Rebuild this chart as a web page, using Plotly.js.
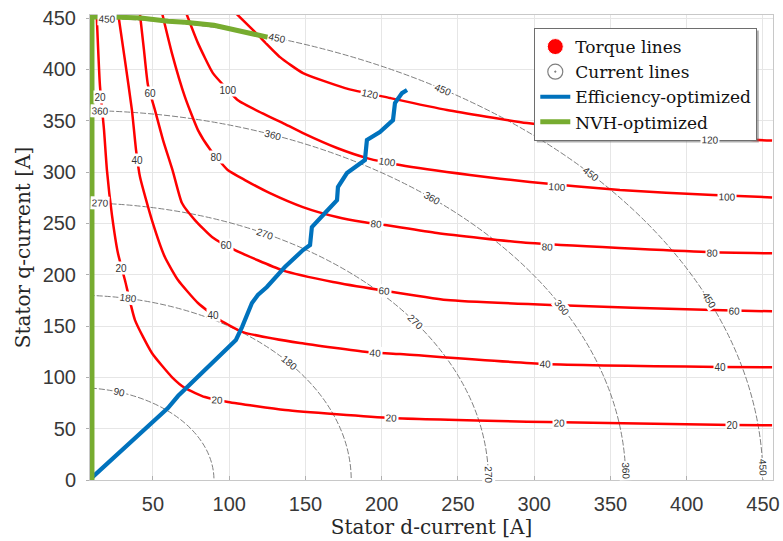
<!DOCTYPE html>
<html>
<head>
<meta charset="utf-8">
<script src="https://cdn.plot.ly/plotly-3.0.1.min.js"></script>
<style>
  html, body { margin: 0; padding: 0; background: #ffffff; }
  #chart { width: 783px; height: 541px; }
</style>
</head>
<body>
<div id="chart"></div>
<script>
// Constant-torque contours in the d-q current plane (stator d-current, stator q-current) [A]
const torqueLevels = [20, 40, 60, 80, 100, 120];

const torque20D = [13.0, 15.2, 17.9, 19.8, 23.1, 27.0, 31.6, 38.2, 49.3, 62.4, 71.0, 84.1, 99.2, 136.6, 206.7, 308.4, 430.3, 456];
const torque20Q = [456, 384.7, 340.9, 301.9, 258.1, 221.1, 194.8, 155.8, 123.7, 100.3, 89.6, 80.8, 76.0, 68.2, 60.4, 56.5, 53.6, 53.4];

const torque40D = [27.0, 31.6, 36.2, 38.9, 41.5, 49.3, 57.8, 66.4, 79.5, 93.9, 109.0, 146.4, 190.3, 212.0, 307.1, 421.9, 456];
const torque40Q = [456, 409.1, 360.4, 321.4, 295.1, 253.2, 217.2, 194.8, 172.4, 155.8, 144.1, 133.4, 124.7, 122.7, 113.0, 110.1, 109.8];

const torque60D = [41.3, 44.1, 46.7, 51.3, 56.6, 63.0, 69.0, 77.5, 88.7, 103.8, 134.6, 168.0, 198.9, 242.8, 312.3, 417.3, 456];
const torque60Q = [456, 418.8, 384.7, 360.4, 331.2, 301.0, 269.8, 253.2, 236.7, 224.0, 204.5, 192.9, 185.1, 175.3, 170.4, 165.6, 164.3];

const torque80D = [55.8, 62.4, 71.0, 79.5, 87.5, 99.0, 110.3, 126.7, 148.3, 170.6, 187.7, 202.1, 236.2, 297.2, 413.3, 456];
const torque80Q = [456, 415.9, 373.0, 340.9, 322.0, 302.0, 292.2, 279.5, 265.9, 256.2, 251.3, 248.4, 240.6, 230.8, 222.1, 220.8];

const torque100D = [71.5, 79.5, 89.3, 99.2, 105.7, 121.5, 136.6, 148.4, 170.7, 190.3, 212.0, 257.9, 297.2, 356.2, 417.3, 456];
const torque100Q = [456, 425.6, 396.4, 379.9, 370.0, 357.4, 346.7, 337.9, 323.4, 313.6, 306.8, 297.1, 290.3, 282.5, 277.6, 275.3];

const torque120D = [103.5, 118.9, 133.3, 148.4, 176.0, 205.5, 242.8, 295.3, 343.2, 389.1, 456];
const torque120Q = [456, 433.4, 412.0, 396.4, 381.8, 372.1, 360.4, 347.7, 339.9, 334.1, 330.8];

// Constant stator-current magnitude circles [A]
const currentLevels = [90, 180, 270, 360, 450];

// Operating trajectories
const effD = [10.5, 59.8, 66.4, 104.4, 108.4, 114.9, 118.8, 124.7, 136.5, 148.4, 153.0, 154.2, 162.8, 170.7, 171.3, 177.2, 189.0, 190.3, 198.8, 207.4, 208.7, 213.3, 216.6];
const effQ = [3.0, 70.1, 81.8, 136.4, 149.0, 172.4, 180.2, 188.0, 207.5, 224.0, 228.9, 246.4, 260.1, 272.7, 285.4, 299.0, 311.7, 331.2, 339.0, 350.6, 367.2, 376.9, 379.9];

const nvhD = [10, 10, 25, 42, 60, 71, 90, 106, 128];
const nvhQ = [0, 451, 451, 450, 447, 446, 443, 438, 430.5];

const tickVals = [0, 50, 100, 150, 200, 250, 300, 350, 400, 450];

// ---- layout geometry ----
const W = 783, H = 541;
const M = { l: 90, r: 10, t: 15, b: 61 };
const xRange = [8.7, 456.6];
const yRange = [0, 453];
const pxPerX = (W - M.l - M.r) / (xRange[1] - xRange[0]);
const pxPerY = (H - M.t - M.b) / (yRange[1] - yRange[0]);

const torqueCurves = [
  [torque20D, torque20Q], [torque40D, torque40Q], [torque60D, torque60Q],
  [torque80D, torque80Q], [torque100D, torque100Q], [torque120D, torque120Q]
];

const RED = '#ff0000', GREY = '#808080', BLUE = '#0072BD', GREEN = '#77AC30';

const traces = [];
torqueCurves.forEach(function (c, i) {
  traces.push({
    x: c[0], y: c[1], type: 'scatter', mode: 'lines',
    name: torqueLevels[i] + ' Nm',
    line: { color: RED, width: 2.5, shape: 'spline', smoothing: 0.5 },
    showlegend: false, hoverinfo: 'skip'
  });
});

// legend entries for the two contour families
traces.push({
  x: [null], y: [null], type: 'scatter', mode: 'markers', name: 'Torque lines',
  marker: { symbol: 'circle', size: 16, color: RED, line: { color: '#ffffff', width: 1 } }
});
traces.push({
  x: [null], y: [null], type: 'scatter', mode: 'markers', name: 'Current lines',
  marker: { symbol: 'circle-open-dot', size: 15, color: GREY, line: { color: GREY, width: 1.2 } }
});

traces.push({
  x: effD, y: effQ, type: 'scatter', mode: 'lines', name: 'Efficiency-optimized',
  line: { color: BLUE, width: 4.2 }, hoverinfo: 'skip'
});
traces.push({
  x: nvhD, y: nvhQ, type: 'scatter', mode: 'lines', name: 'NVH-optimized',
  line: { color: GREEN, width: 5 }, hoverinfo: 'skip'
});

// current circles as data-referenced shapes
const shapes = currentLevels.map(function (r) {
  return {
    type: 'circle', xref: 'x', yref: 'y', x0: -r, x1: r, y0: -r, y1: r,
    line: { color: GREY, width: 1, dash: '6px,2px' }, layer: 'between'
  };
});

// inline contour labels
const labelFont = { family: 'Liberation Sans, Arial, sans-serif', size: 10, color: '#333333' };
function inlineLabel(text, x, y, angle) {
  return {
    x: x, y: y, xref: 'x', yref: 'y', text: String(text), showarrow: false,
    textangle: angle, font: labelFont, bgcolor: '#ffffff', borderpad: 0.5
  };
}

// [level index, d, q, angle]
const torqueLabelSpots = [
  [0, 15.6, 373, 0], [0, 29.6, 206.5, 0], [0, 92, 78, 3], [0, 206.7, 60.4, 2], [0, 316.9, 55.5, 1], [0, 430.3, 53.6, 0],
  [1, 39.9, 311.7, 0], [1, 89.6, 160.7, 0], [1, 195.6, 123.7, 3], [1, 307.1, 113.0, 1], [1, 421.9, 110.1, 0],
  [2, 48.2, 376.9, 0], [2, 97.9, 228.9, 0], [2, 202.1, 184.4, 4], [2, 431.6, 164.6, 1],
  [3, 91.8, 314.6, 0], [3, 196.9, 249.4, 5], [3, 308.4, 227.0, 2], [3, 416.6, 221.1, 1],
  [4, 99.2, 379.9, 0], [4, 203.4, 309.5, 8], [4, 314.9, 285.4, 3], [4, 426.4, 275.6, 1],
  [5, 192.3, 376.4, 12], [5, 415.2, 331.0, 1]
];

// [circle index, polar angle in degrees]
const currentLabelSpots = [
  [4, 87.5], [4, 73], [4, 57.7], [4, 41.5], [4, 22.9], [4, 1.6],
  [3, 87.6], [3, 69.1], [3, 49.7], [3, 27.8], [3, 1.5],
  [2, 86.8], [2, 62.8], [2, 34.7], [2, 1.0],
  [1, 79.3], [1, 39.2],
  [0, 72]
];

const annotations = [];
torqueLabelSpots.forEach(function (s) {
  annotations.push(inlineLabel(torqueLevels[s[0]], s[1], s[2], s[3]));
});
currentLabelSpots.forEach(function (s) {
  const r = currentLevels[s[0]];
  const phi = s[1] * Math.PI / 180;
  const ang = Math.atan2(Math.cos(phi) * pxPerY, Math.sin(phi) * pxPerX) * 180 / Math.PI;
  annotations.push(inlineLabel(r, r * Math.cos(phi), r * Math.sin(phi), ang));
});

const tickFont = { family: 'Liberation Sans, Arial, sans-serif', size: 20, color: '#383838' };
const titleFont = { family: 'DejaVu Serif, Liberation Serif, serif', size: 20, color: '#262626' };

const layout = {
  width: W, height: H,
  margin: M,
  paper_bgcolor: '#ffffff', plot_bgcolor: '#ffffff',
  showlegend: true,
  xaxis: {
    range: xRange, tickmode: 'array', tickvals: tickVals.slice(1),
    showgrid: true, gridcolor: '#e6e6e6', gridwidth: 1,
    zeroline: false, showline: true, mirror: true, linecolor: '#c8c8c8', linewidth: 1,
    ticks: 'inside', ticklen: 4, tickcolor: '#b0b0b0',
    tickfont: tickFont, ticklabelstandoff: 6,
    title: { text: 'Stator d-current [A]', font: titleFont, standoff: 4 }
  },
  yaxis: {
    range: yRange, tickmode: 'array', tickvals: tickVals,
    showgrid: true, gridcolor: '#e6e6e6', gridwidth: 1,
    zeroline: false, showline: true, mirror: true, linecolor: '#c8c8c8', linewidth: 1,
    ticks: 'outside', ticklen: 3, tickcolor: '#b0b0b0',
    tickfont: tickFont, ticklabelstandoff: 6,
    title: { text: 'Stator q-current [A]', font: titleFont, standoff: 6 }
  },
  legend: {
    x: 0.977, y: 0.972, xanchor: 'right', yanchor: 'top',
    bgcolor: '#ffffff', bordercolor: '#6e6e6e', borderwidth: 1,
    font: { family: 'DejaVu Serif, Liberation Serif, serif', size: 17, color: '#111111' },
    traceorder: 'normal', itemsizing: 'trace'
  },
  shapes: shapes,
  annotations: annotations
};

Plotly.newPlot('chart', traces, layout, { staticPlot: true, displayModeBar: false }).then(function (gd) {
  // soft drop shadow behind the legend box, placed from its rendered size
  const bg = gd.querySelector('.legend .bg');
  if (!bg) return;
  const lb = bg.getBoundingClientRect();
  const gb = gd.getBoundingClientRect();
  const plotW = W - M.l - M.r, plotH = H - M.t - M.b;
  const toPx = function (px) { return (px - gb.left - M.l) / plotW; };
  const toPy = function (py) { return 1 - (py - gb.top - M.t) / plotH; };
  const shadow = {
    type: 'rect', xref: 'paper', yref: 'paper', layer: 'above',
    x0: toPx(lb.left + 2), x1: toPx(lb.right + 2),
    y0: toPy(lb.bottom + 2), y1: toPy(lb.top + 2),
    fillcolor: 'rgba(110,110,110,0.55)', line: { width: 0 }
  };
  return Plotly.relayout(gd, { shapes: shapes.concat([shadow]) });
});
</script>
</body>
</html>
